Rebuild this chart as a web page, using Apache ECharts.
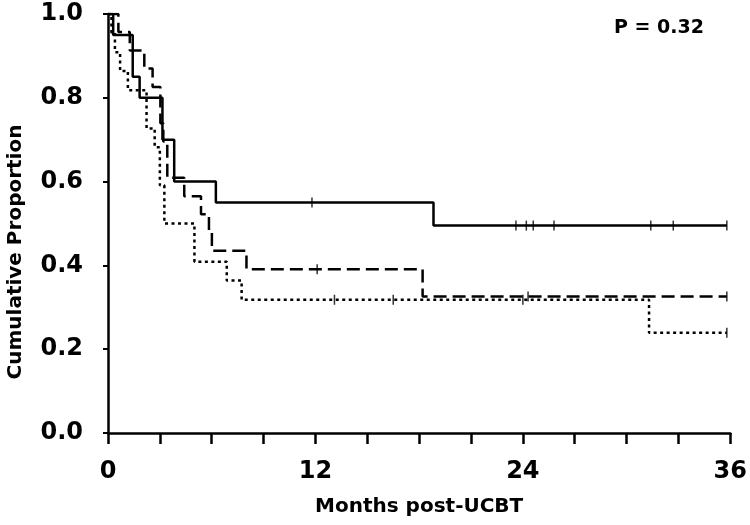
<!DOCTYPE html>
<html>
<head>
<meta charset="utf-8">
<script src="https://cdn.jsdelivr.net/npm/echarts@6/dist/echarts.min.js"></script>
<style>
  html, body { margin: 0; padding: 0; background: #fff; }
  #chart { width: 750px; height: 525px; }
</style>
</head>
<body>
<div id="chart"></div>
<script>
// step points: time in months, survival after the event
const solidTime = [0, 0.3, 1.43, 1.83, 3.15, 3.83, 6.24, 18.83, 35.8];
const solidSurv = [1, 0.95, 0.85, 0.80, 0.70, 0.60, 0.55, 0.495, 0.495];
const solidCensorTime = [11.8, 23.6, 24.2, 24.6, 25.8, 31.4, 32.7, 35.8];
const solidCensorSurv = [0.55, 0.495, 0.495, 0.495, 0.495, 0.495, 0.495, 0.495];

const dashedTime = [0, 0.6, 1.26, 2.1, 2.58, 3.03, 3.2, 3.43, 4.41, 5.38, 5.84, 6.01, 8.01, 18.2, 35.8];
const dashedSurv = [1, 0.957, 0.913, 0.870, 0.826, 0.739, 0.696, 0.609, 0.565, 0.522, 0.478, 0.435, 0.391, 0.326, 0.326];
const dashedCensorTime = [12.1, 24.3, 35.8];
const dashedCensorSurv = [0.391, 0.326, 0.326];

const dottedTime = [0, 0.2, 0.4, 0.7, 1.15, 2.23, 2.7, 3.0, 3.26, 5.0, 6.87, 7.73, 31.3, 35.8];
const dottedSurv = [1, 0.955, 0.909, 0.864, 0.818, 0.727, 0.682, 0.591, 0.5, 0.409, 0.364, 0.318, 0.239, 0.239];
const dottedCensorTime = [13.1, 16.5, 24.0, 35.8];
const dottedCensorSurv = [0.318, 0.318, 0.318, 0.239];

const xTicks = [0, 12, 24, 36];
const pValue = 'P = 0.32';

const font = 'DejaVu Sans';

function pairs(xs, ys) {
    return xs.map((x, i) => [x, ys[i]]);
}

function curve(xs, ys, dash) {
    return {
        type: 'line',
        step: 'end',
        data: pairs(xs, ys),
        symbol: 'none',
        lineStyle: { color: '#000', width: 2.5, type: dash },
        silent: true
    };
}

function censors(xs, ys) {
    return {
        type: 'scatter',
        data: pairs(xs, ys),
        symbol: 'rect',
        symbolSize: [1.5, 10],
        itemStyle: { color: '#000' },
        silent: true
    };
}

echarts.init(document.querySelector('#chart')).setOption({
    animation: false,
    grid: { left: 108, right: 10, top: 14, bottom: 92 },
    xAxis: {
        type: 'value',
        min: 0,
        max: 36,
        interval: 3,
        offset: 8,
        name: 'Months post-UCBT',
        nameLocation: 'middle',
        nameGap: 56,
        nameTextStyle: { fontFamily: font, fontWeight: 'bold', fontSize: 20, color: '#000' },
        axisLine: { lineStyle: { color: '#000', width: 2.5 } },
        axisTick: { length: 11, lineStyle: { color: '#000', width: 2.5 } },
        axisLabel: {
            margin: 19,
            fontFamily: font,
            fontWeight: 'bold',
            fontSize: 24,
            color: '#000',
            formatter: v => xTicks.includes(v) ? String(v) : ''
        },
        splitLine: { show: false }
    },
    yAxis: {
        type: 'value',
        min: 0,
        max: 1,
        interval: 0.2,
        offset: 5,
        axisLine: { show: true, lineStyle: { color: '#000', width: 2.5 } },
        axisTick: { show: true, length: 5, lineStyle: { color: '#000', width: 2 } },
        axisLabel: {
            margin: 20,
            fontFamily: font,
            fontWeight: 'bold',
            fontSize: 24,
            color: '#000',
            formatter: v => v.toFixed(1)
        },
        splitLine: { show: false }
    },
    graphic: [
        {
            type: 'text',
            left: 614,
            top: 19,
            style: { text: pValue, font: 'bold 19px "DejaVu Sans"', fill: '#000' }
        },
        {
            type: 'text',
            x: 16,
            y: 252,
            rotation: Math.PI / 2,
            style: {
                text: 'Cumulative Proportion',
                font: 'bold 20px "DejaVu Sans"',
                fill: '#000',
                align: 'center',
                verticalAlign: 'middle'
            }
        }
    ],
    series: [
        curve(solidTime, solidSurv, 'solid'),
        curve(dashedTime, dashedSurv, [13, 6]),
        curve(dottedTime, dottedSurv, [3, 3.5]),
        censors(solidCensorTime, solidCensorSurv),
        censors(dashedCensorTime, dashedCensorSurv),
        censors(dottedCensorTime, dottedCensorSurv)
    ]
});
</script>
</body>
</html>
